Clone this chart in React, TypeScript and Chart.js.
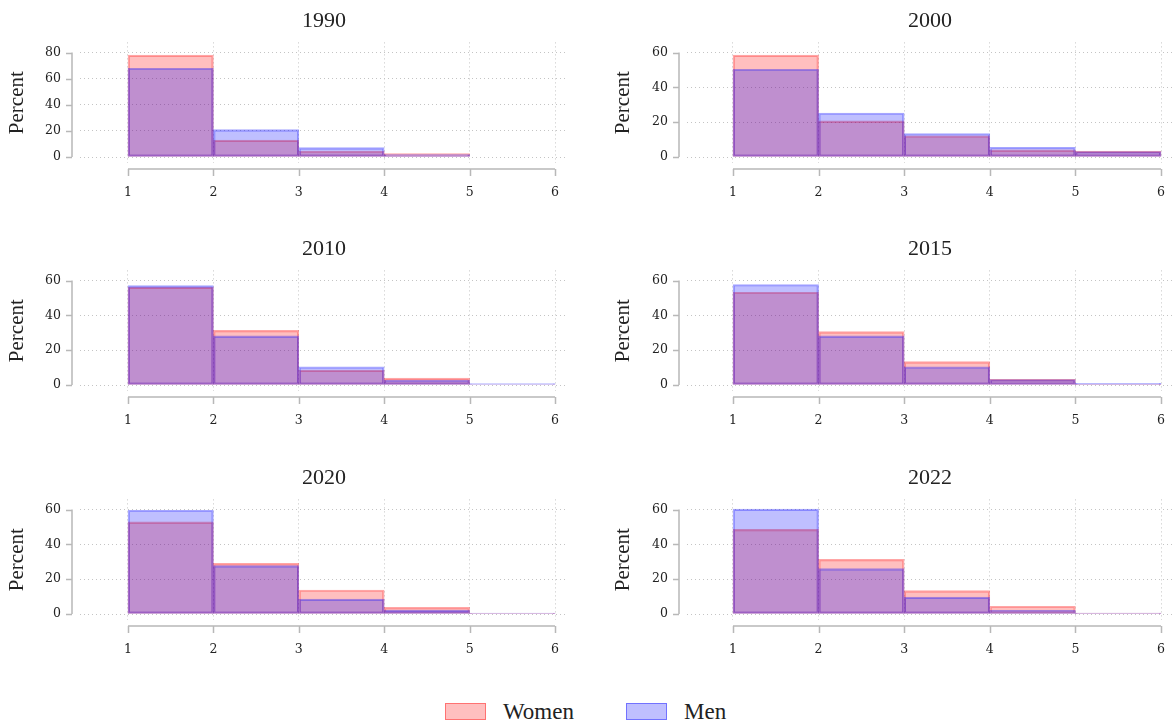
import React, { useEffect, useRef } from "react";
import { Chart, registerables } from "chart.js";

Chart.register(...registerables);

// ---------- data ----------
const bins = [1, 2, 3, 4, 5];
const binWidth = 1;
const xTickValues = [1, 2, 3, 4, 5, 6];
const yTicks80 = [0, 20, 40, 60, 80];
const yTicks60 = [0, 20, 40, 60];
const seriesNames = ["Women", "Men"];
const panelTitles = ["1990", "2000", "2010", "2015", "2020", "2022"];

const women1990 = [78, 13, 4.6, 2.6, null];
const men1990 = [68, 21, 7.2, 1.8, null];
const women2000 = [58.5, 20.8, 12.2, 4.1, 3.4];
const men2000 = [50.4, 25.3, 13.5, 5.6, 3.2];
const women2010 = [56.2, 31.4, 8.6, 4.0, 0.3];
const men2010 = [57.1, 28.2, 10.5, 2.9, 0.9];
const women2015 = [53.3, 30.7, 13.4, 3.3, 0.2];
const men2015 = [57.7, 28.2, 10.5, 3.2, 1.0];
const women2020 = [52.9, 29.1, 13.8, 3.8, 0.2];
const men2020 = [59.6, 27.8, 8.6, 2.3, 0.6];
const women2022 = [48.6, 31.4, 13.4, 4.5, 0.6];
const men2022 = [60.2, 26.1, 9.7, 2.1, 0.6];

const womenSeries = [women1990, women2000, women2010, women2015, women2020, women2022];
const menSeries = [men1990, men2000, men2010, men2015, men2020, men2022];
const panelYTicks = [yTicks80, yTicks60, yTicks60, yTicks60, yTicks60, yTicks60];

// ---------- styles ----------
const WOMEN_FILL = "rgba(255,0,0,0.25)";
const WOMEN_LINE = "rgba(255,0,0,0.35)";
const MEN_FILL = "rgba(0,0,255,0.25)";
const MEN_LINE = "rgba(0,0,255,0.35)";
const GRID = "#c4c4c4";
const AXIS = "#b8b8b8";
const TEXT = "#222";
const SERIF = "'Liberation Serif', 'Times New Roman', serif";
const TICKFONT = "'DejaVu Serif', serif";

const columns = [
  { left: 0, width: 585, yWidth: 80, yTitlePad: 4.4, xMin: 0.438, xMax: 6.152, padRight: 17 },
  { left: 585, width: 588, yWidth: 102, yTitlePad: 25.4, xMin: 0.463, xMax: 6.14, padRight: 0 },
];
const rowTops = [0, 228, 457];
const PANEL_H = 228;
const PLOT_BOTTOM = 163;

const axesPlugin = {
  id: "stataAxes",
  afterDraw(chart: any) {
    const { ctx, chartArea, scales } = chart;
    const x = scales.x;
    const y = scales.y;
    ctx.save();
    ctx.strokeStyle = AXIS;
    ctx.lineWidth = 1.5;
    // y axis
    const ax = chartArea.left - 8;
    const yVals = y.ticks.map((t: any) => t.value);
    const yTop = y.getPixelForValue(yVals[yVals.length - 1]);
    const yBot = y.getPixelForValue(yVals[0]);
    ctx.beginPath();
    ctx.moveTo(ax, yTop);
    ctx.lineTo(ax, yBot);
    yVals.forEach((v: number) => {
      const py = Math.round(y.getPixelForValue(v)) + 0.5;
      ctx.moveTo(ax - 6, py);
      ctx.lineTo(ax, py);
    });
    ctx.stroke();
    // x axis
    const ay = chartArea.bottom + 6;
    const xVals = x.ticks.map((t: any) => t.value);
    ctx.beginPath();
    ctx.moveTo(x.getPixelForValue(xVals[0]), ay);
    ctx.lineTo(x.getPixelForValue(xVals[xVals.length - 1]), ay);
    xVals.forEach((v: number) => {
      const px = Math.round(x.getPixelForValue(v)) + 0.5;
      ctx.moveTo(px, ay);
      ctx.lineTo(px, ay + 7);
    });
    ctx.stroke();
    ctx.restore();
  },
};

function Panel({ index }: { index: number }) {
  const ref = useRef<HTMLCanvasElement | null>(null);
  const col = columns[index % 2];
  const top = rowTops[Math.floor(index / 2)];

  useEffect(() => {
    if (!ref.current) return;
    const yTicks = panelYTicks[index];
    const yTopVal = yTicks[yTicks.length - 1];
    const toPoints = (arr: (number | null)[]) =>
      bins.map((b, i) => ({ x: b + binWidth / 2, y: arr[i] }));
    const chart = new Chart(ref.current, {
      type: "bar",
      data: {
        datasets: [
          {
            label: seriesNames[0],
            data: toPoints(womenSeries[index]) as any,
            backgroundColor: WOMEN_FILL,
            borderColor: WOMEN_LINE,
            borderWidth: 1.5,
            borderSkipped: false,
            barPercentage: 1,
            categoryPercentage: 1,
            grouped: false,
            order: 2,
          } as any,
          {
            label: seriesNames[1],
            data: toPoints(menSeries[index]) as any,
            backgroundColor: MEN_FILL,
            borderColor: MEN_LINE,
            borderWidth: 1.5,
            borderSkipped: false,
            barPercentage: 1,
            categoryPercentage: 1,
            grouped: false,
            order: 1,
          } as any,
        ],
      },
      options: {
        responsive: false,
        animation: false,
        devicePixelRatio: 1,
        layout: { padding: { left: 0, right: col.padRight, top: 0, bottom: 0 } },
        plugins: {
          legend: { display: false },
          tooltip: { enabled: false },
          title: {
            display: true,
            text: panelTitles[index],
            fullSize: false,
            color: TEXT,
            font: { family: SERIF, size: 22, weight: "normal" },
            padding: { top: 8, bottom: 8 },
          },
        },
        scales: {
          x: {
            type: "linear",
            offset: false,
            min: col.xMin,
            max: col.xMax,
            afterBuildTicks: (s: any) => {
              s.ticks = xTickValues.map((v) => ({ value: v }));
            },
            afterFit: (s: any) => {
              s.height = PANEL_H - PLOT_BOTTOM;
              s.paddingLeft = 0;
              s.paddingRight = 0;
            },
            ticks: {
              color: TEXT,
              font: { family: TICKFONT, size: 12.5 },
              padding: 22,
              maxRotation: 0,
              autoSkip: false,
            },
            grid: { color: GRID, lineWidth: 1, drawTicks: false, offset: false },
            border: { display: false, dash: [1, 3] },
          },
          y: {
            type: "linear",
            min: -0.057 * yTopVal,
            max: 1.097 * yTopVal,
            afterBuildTicks: (s: any) => {
              s.ticks = yTicks.map((v) => ({ value: v }));
            },
            afterFit: (s: any) => {
              s.width = col.yWidth;
              s.paddingTop = 0;
              s.paddingBottom = 0;
            },
            ticks: {
              color: TEXT,
              font: { family: TICKFONT, size: 12.5 },
              padding: 19,
            },
            title: {
              display: true,
              text: "Percent",
              color: TEXT,
              font: { family: SERIF, size: 21 },
              padding: { top: col.yTitlePad, bottom: 0 },
            },
            grid: { color: GRID, lineWidth: 1, drawTicks: false },
            border: { display: false, dash: [1, 3] },
          },
        },
      } as any,
      plugins: [axesPlugin],
    });
    return () => chart.destroy();
  }, [index]);

  return (
    <canvas
      ref={ref}
      width={col.width}
      height={PANEL_H}
      style={{
        position: "absolute",
        left: col.left,
        top: top,
        width: col.width,
        height: PANEL_H,
      }}
    />
  );
}

function LegendItem({ left, boxLeft, fill, line, label }: any) {
  return (
    <>
      <div
        style={{
          position: "absolute",
          left: boxLeft,
          top: 703,
          width: 41,
          height: 17,
          boxSizing: "border-box",
          background: fill,
          border: `1.5px solid ${line}`,
        }}
      />
      <div
        style={{
          position: "absolute",
          left: left,
          top: 699,
          height: 26,
          lineHeight: "26px",
          fontFamily: SERIF,
          fontSize: 23,
          color: TEXT,
          whiteSpace: "nowrap",
        }}
      >
        {label}
      </div>
    </>
  );
}

export default function App() {
  return (
    <div
      style={{
        position: "absolute",
        left: 0,
        top: 0,
        width: 1173,
        height: 723,
        background: "#fff",
        overflow: "hidden",
      }}
    >
      {panelTitles.map((t, i) => (
        <Panel key={t} index={i} />
      ))}
      <LegendItem boxLeft={445} left={503} fill={WOMEN_FILL} line="rgba(255,0,0,0.4)" label={seriesNames[0]} />
      <LegendItem boxLeft={626} left={684} fill={MEN_FILL} line="rgba(0,0,255,0.4)" label={seriesNames[1]} />
    </div>
  );
}
